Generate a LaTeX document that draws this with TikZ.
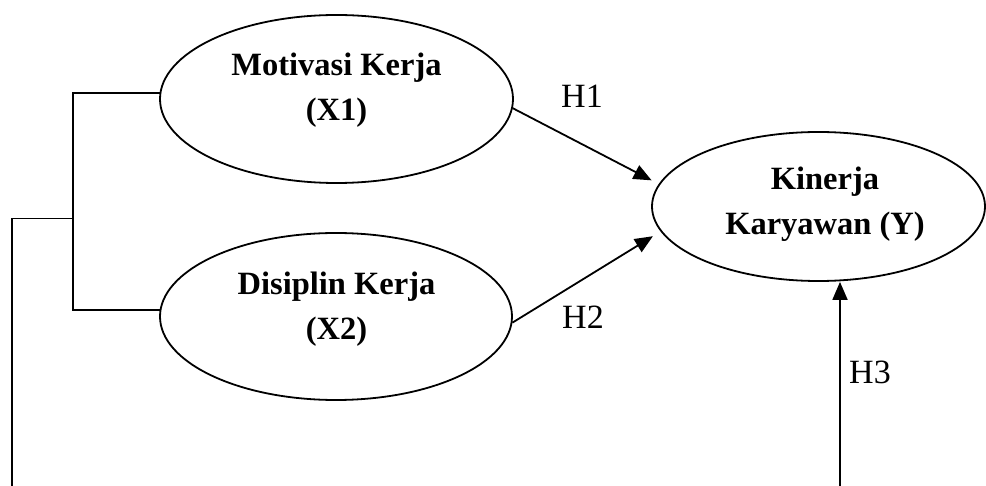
\documentclass[tikz,border=0pt]{standalone}
\usepackage{fontspec}
\setmainfont{Liberation Serif}
\usetikzlibrary{arrows.meta,shapes.geometric,calc}
\begin{document}
\begin{tikzpicture}[x=1pt,y=-1pt,
  line width=1.8pt,
  latent/.style={draw,ellipse,inner sep=0pt},
  vartext/.style={font=\fontsize{32.5}{45}\selectfont\bfseries,align=center,inner sep=0pt},
  hyp/.style={font=\fontsize{34}{40}\selectfont,inner sep=0pt},
  path/.style={-{Triangle[length=18pt,width=15pt]}}]
\useasboundingbox (0,0) rectangle (986,486);

% variables
\node[latent,minimum width=353pt,minimum height=168pt] (x1) at (336.5,99) {};
\node[latent,minimum width=352pt,minimum height=167pt] (x2) at (336,316.5) {};
\node[latent,minimum width=333pt,minimum height=149pt] (y) at (818.5,206.5) {};

\node[vartext] (x1t) at (336.5,90) {Motivasi Kerja\\(X1)};
\node[vartext] (x2t) at (336.5,309) {Disiplin Kerja\\(X2)};
\node[vartext] (yt) at (825,204) {Kinerja\\Karyawan (Y)};

% bracket joining X1 and X2
\coordinate (bx) at (73,218.5);
\coordinate (foot) at (12,490);
\draw (x1.178) -| (bx) |- (x2.178);
\draw (bx) -- (bx -| foot) -- (foot);

% hypothesis paths
\coordinate (h3foot) at (840,490);
\draw[path,shorten >=8pt] (x1.-3) -- (y.172);
\draw[path,shorten >=9pt] (x2.-2) -- (y.189);
\draw[path] (h3foot) -- (h3foot |- y.south);

\node[hyp] (h1) at (582,96) {H1};
\node[hyp] (h2) at (583,317) {H2};
\node[hyp] (h3) at (870,372) {H3};
\end{tikzpicture}
\end{document}
